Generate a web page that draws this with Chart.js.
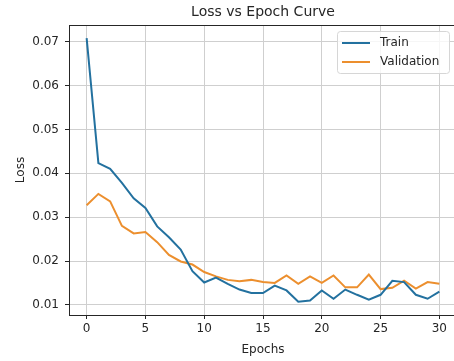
<!DOCTYPE html>
<html>
<head>
<meta charset="utf-8">
<script src="https://cdn.jsdelivr.net/npm/chart.js@4.4.1/dist/chart.umd.min.js"></script>
<style>
  html, body { margin: 0; padding: 0; background: #fff; overflow: hidden; }
  #wrap { width: 480px; height: 361px; }
</style>
</head>
<body>
<div id="wrap"><canvas id="lossChart" width="480" height="361"></canvas></div>
<script>
const epochs = [0, 1, 2, 3, 4, 5, 6, 7, 8, 9, 10, 11, 12, 13, 14, 15, 16, 17, 18, 19, 20, 21, 22, 23, 24, 25, 26, 27, 28, 29, 30];
const trainLoss = [0.0708, 0.0423, 0.0410, 0.0378, 0.0343, 0.0321, 0.0279, 0.0254, 0.0226, 0.0177, 0.0151, 0.0162, 0.0148, 0.0135, 0.0127, 0.0127, 0.0144, 0.0133, 0.0107, 0.0110, 0.0133, 0.0114, 0.0135, 0.0123, 0.0112, 0.0123, 0.0155, 0.0152, 0.0123, 0.0114, 0.0130];
const valLoss = [0.0327, 0.0353, 0.0336, 0.0280, 0.0263, 0.0266, 0.0243, 0.0214, 0.0199, 0.0192, 0.0175, 0.0165, 0.0157, 0.0154, 0.0157, 0.0152, 0.0150, 0.0167, 0.0148, 0.0165, 0.0150, 0.0167, 0.0140, 0.0140, 0.0169, 0.0136, 0.0139, 0.0155, 0.0137, 0.0152, 0.0148];
const xTicks = [0, 5, 10, 15, 20, 25, 30];
const yTicks = [0.01, 0.02, 0.03, 0.04, 0.05, 0.06, 0.07];
const chartTitle = 'Loss vs Epoch Curve';

const FONT = '"DejaVu Sans", sans-serif';
const INK = '#262626';

// 5% padding around the data, like matplotlib autoscale
const all = trainLoss.concat(valLoss);
const lo = Math.min(...all), hi = Math.max(...all);
const pad = (hi - lo) * 0.05;

// title centred over the axes, frame on all four sides, legend box upper right
const framePlugin = {
  id: 'frame',
  afterDraw(chart) {
    const { ctx, chartArea: a } = chart;
    ctx.save();
    ctx.strokeStyle = INK;
    ctx.lineWidth = 1;
    ctx.strokeRect(Math.round(a.left) + 0.5, Math.round(a.top) + 0.5, a.right - a.left, a.bottom - a.top);

    ctx.font = '14px ' + FONT;
    ctx.fillStyle = INK;
    ctx.textAlign = 'center';
    ctx.textBaseline = 'middle';
    ctx.fillText(chartTitle, (a.left + a.right) / 2, 12.5);

    const bx = 337.5, by = 31.5, bw = 112, bh = 42;
    ctx.beginPath();
    ctx.roundRect(bx, by, bw, bh, 3);
    ctx.fillStyle = 'rgba(255,255,255,0.8)';
    ctx.fill();
    ctx.strokeStyle = '#d6d6d6';
    ctx.stroke();

    ctx.font = '12px ' + FONT;
    ctx.textAlign = 'left';
    chart.data.datasets.forEach((ds, i) => {
      const y = 43 + i * 19;
      ctx.strokeStyle = ds.borderColor;
      ctx.lineWidth = 2;
      ctx.beginPath();
      ctx.moveTo(342, y);
      ctx.lineTo(370, y);
      ctx.stroke();
      ctx.fillStyle = INK;
      ctx.fillText(ds.label, 380, y);
    });
    ctx.restore();
  }
};

const ctx = document.getElementById('lossChart');
const chart = new Chart(ctx, {
  type: 'line',
  data: {
    datasets: [
      {
        label: 'Train',
        data: epochs.map((e, i) => ({ x: e, y: trainLoss[i] })),
        borderColor: '#23719f',
        borderWidth: 2,
        pointRadius: 0,
        tension: 0,
      },
      {
        label: 'Validation',
        data: epochs.map((e, i) => ({ x: e, y: valLoss[i] })),
        borderColor: '#ec8f2e',
        borderWidth: 2,
        pointRadius: 0,
        tension: 0,
      },
    ],
  },
  options: {
    responsive: false,
    animation: false,
    layout: { padding: { top: 25, left: 0, right: 23, bottom: 0 } },
    plugins: {
      legend: { display: false },
      tooltip: { enabled: false },
      title: { display: false },
    },
    scales: {
      x: {
        type: 'linear',
        min: -1.5,
        max: 31.5,
        afterFit: (scale) => { scale.height = 46; },
        afterBuildTicks: (scale) => { scale.ticks = xTicks.map((v) => ({ value: v })); },
        ticks: {
          color: INK,
          font: { family: FONT, size: 12 },
          padding: 3,
          maxRotation: 0,
          callback: (v) => String(v),
        },
        grid: { color: '#cfcfcf', lineWidth: 1, tickColor: INK, tickLength: 4 },
        border: { color: INK, width: 1 },
        title: {
          display: true,
          text: 'Epochs',
          color: INK,
          font: { family: FONT, size: 12 },
          padding: { top: 0, bottom: 4 },
        },
      },
      y: {
        min: lo - pad,
        max: hi + pad,
        afterFit: (scale) => { scale.width = 69; },
        afterBuildTicks: (scale) => { scale.ticks = yTicks.map((v) => ({ value: v })); },
        ticks: {
          color: INK,
          font: { family: FONT, size: 12 },
          padding: 6,
          callback: (v) => v.toFixed(2),
        },
        grid: { color: '#cfcfcf', lineWidth: 1, tickColor: INK, tickLength: 4 },
        border: { color: INK, width: 1 },
        title: {
          display: true,
          text: 'Loss',
          color: INK,
          font: { family: FONT, size: 12 },
          padding: { top: 14, bottom: 0 },
        },
      },
    },
  },
  plugins: [framePlugin],
});
</script>
</body>
</html>
